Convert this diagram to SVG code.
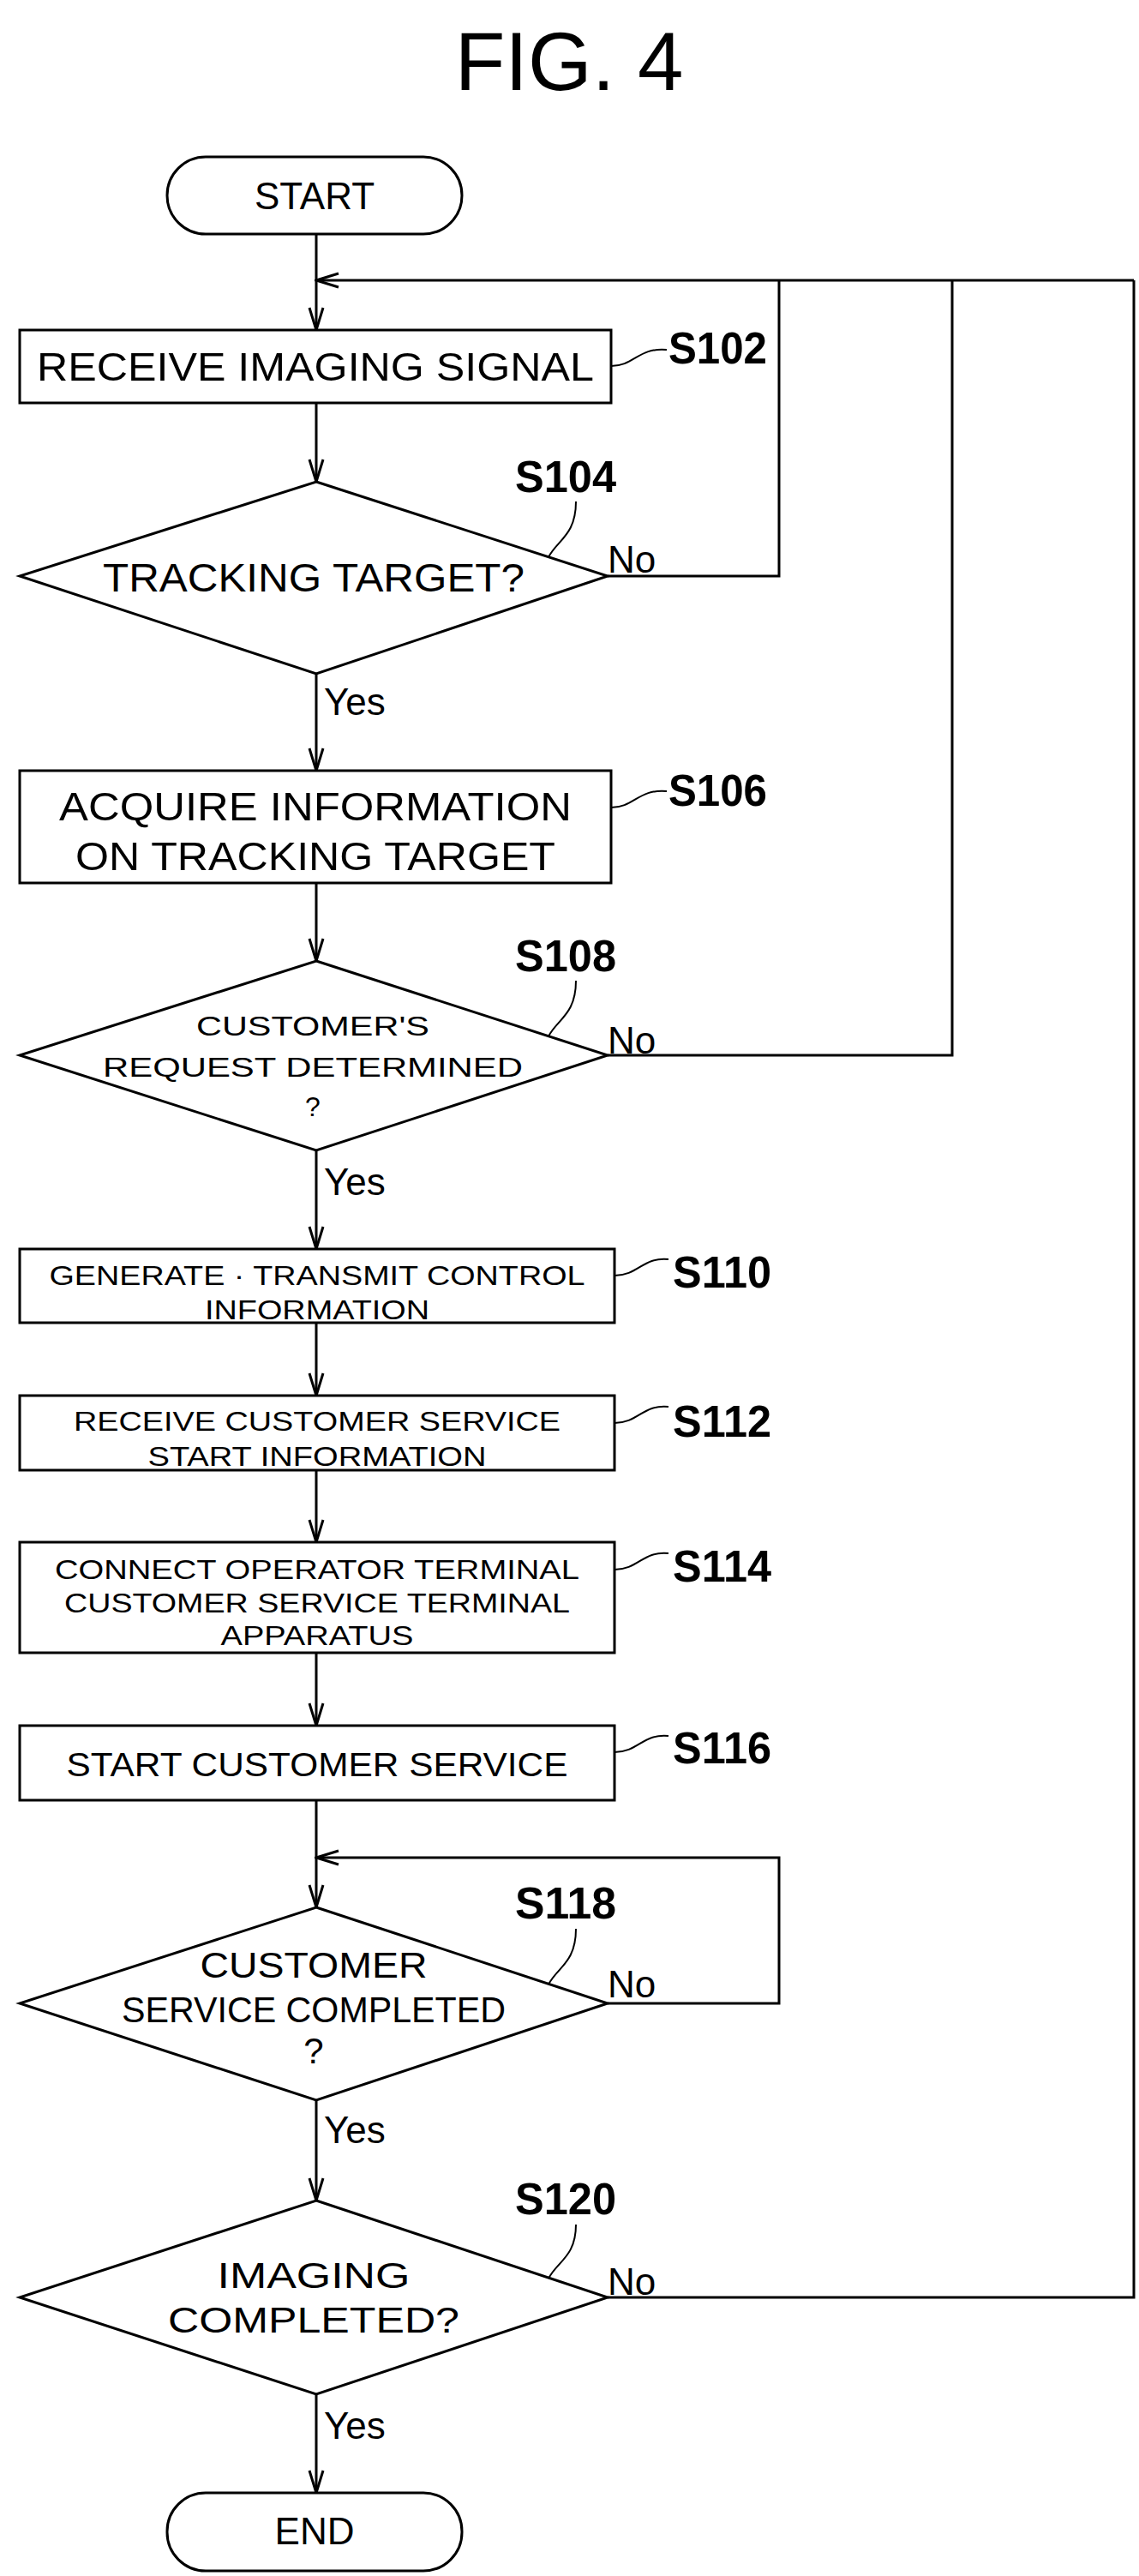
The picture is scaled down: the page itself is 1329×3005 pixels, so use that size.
<svg xmlns="http://www.w3.org/2000/svg" width="1329" height="3005" viewBox="0 0 1329 3005">
<style>
.s{fill:#fff;stroke:#000;stroke-width:3}
.c{fill:none;stroke:#000;stroke-width:3}
.l{fill:none;stroke:#000;stroke-width:2}
text{font-family:"Liberation Sans",Arial,sans-serif;fill:#000}
.t{text-anchor:middle}
.lb{font-size:52px;font-weight:bold}
.yn{font-size:44px}
</style>
<defs>
<marker id="a" markerWidth="30" markerHeight="20" refX="28" refY="10" orient="auto" markerUnits="userSpaceOnUse" viewBox="0 0 30 20">
<path d="M2,2 L28,10 L2,18" fill="none" stroke="#000" stroke-width="3"/>
</marker>
</defs>
<text x="664" y="105" class="t" font-size="96">FIG. 4</text>

<g id="connectors">
<path class="c" d="M369,273 V385" marker-end="url(#a)"/>
<path class="c" d="M1323,327 H369" marker-end="url(#a)"/>
<path class="c" d="M369,470 V562" marker-end="url(#a)"/>
<path class="c" d="M709,672 H909 V327"/>
<path class="c" d="M369,786 V899" marker-end="url(#a)"/>
<path class="c" d="M369,1030 V1121" marker-end="url(#a)"/>
<path class="c" d="M709,1231 H1111 V327"/>
<path class="c" d="M369,1342 V1457" marker-end="url(#a)"/>
<path class="c" d="M369,1543 V1628" marker-end="url(#a)"/>
<path class="c" d="M369,1715 V1799" marker-end="url(#a)"/>
<path class="c" d="M369,1928 V2013" marker-end="url(#a)"/>
<path class="c" d="M369,2100 V2225" marker-end="url(#a)"/>
<path class="c" d="M709,2337 H909 V2167 H369" marker-end="url(#a)"/>
<path class="c" d="M369,2450 V2567" marker-end="url(#a)"/>
<path class="c" d="M709,2680 H1323 V327"/>
<path class="c" d="M369,2793 V2908" marker-end="url(#a)"/>
<text x="709" y="668" class="yn">No</text>
<text x="709" y="1229" class="yn">No</text>
<text x="709" y="2330" class="yn">No</text>
<text x="709" y="2677" class="yn">No</text>
<text x="378" y="834" class="yn">Yes</text>
<text x="378" y="1394" class="yn">Yes</text>
<text x="378" y="2500" class="yn">Yes</text>
<text x="378" y="2845" class="yn">Yes</text>
</g>

<g id="start"><rect class="s" x="195" y="183" width="344" height="90" rx="45"/><text x="367" y="244" class="t" font-size="44">START</text></g>

<g id="s102"><rect class="s" x="23" y="385" width="690" height="85"/>
<text x="368" y="444" class="t" font-size="46" textLength="650" lengthAdjust="spacingAndGlyphs">RECEIVE IMAGING SIGNAL</text>
<path class="l" d="M713,427 C740,427 745,405 778,408"/>
<text x="780" y="424" class="lb" textLength="115" lengthAdjust="spacingAndGlyphs">S102</text></g>

<g id="s104"><polygon class="s" points="369,562 709,672 369,786 23,672"/>
<text x="366" y="690" class="t" font-size="46" textLength="492" lengthAdjust="spacingAndGlyphs">TRACKING TARGET?</text>
<path class="l" d="M640,650 C650,630 672,625 672,585"/>
<text x="601" y="574" class="lb" textLength="118" lengthAdjust="spacingAndGlyphs">S104</text></g>

<g id="s106"><rect class="s" x="23" y="899" width="690" height="131"/>
<text x="368" y="957" class="t" font-size="46" textLength="598" lengthAdjust="spacingAndGlyphs">ACQUIRE INFORMATION</text>
<text x="368" y="1015" class="t" font-size="46" textLength="560" lengthAdjust="spacingAndGlyphs">ON TRACKING TARGET</text>
<path class="l" d="M713,942 C740,942 745,920 778,923"/>
<text x="780" y="940" class="lb" textLength="115" lengthAdjust="spacingAndGlyphs">S106</text></g>

<g id="s108"><polygon class="s" points="369,1121 709,1231 369,1342 23,1231"/>
<text x="365" y="1208" class="t" font-size="32" textLength="272" lengthAdjust="spacingAndGlyphs">CUSTOMER'S</text>
<text x="365" y="1256" class="t" font-size="32" textLength="490" lengthAdjust="spacingAndGlyphs">REQUEST DETERMINED</text>
<text x="365" y="1302" class="t" font-size="32">?</text>
<path class="l" d="M640,1209 C650,1189 672,1184 672,1144"/>
<text x="601" y="1133" class="lb" textLength="118" lengthAdjust="spacingAndGlyphs">S108</text></g>

<g id="s110"><rect class="s" x="23" y="1457" width="694" height="86"/>
<text x="370" y="1499" class="t" font-size="32" textLength="625" lengthAdjust="spacingAndGlyphs">GENERATE · TRANSMIT CONTROL</text>
<text x="370" y="1539" class="t" font-size="32" textLength="262" lengthAdjust="spacingAndGlyphs">INFORMATION</text>
<path class="l" d="M717,1488 C745,1488 750,1466 780,1469"/>
<text x="785" y="1502" class="lb" textLength="115" lengthAdjust="spacingAndGlyphs">S110</text></g>

<g id="s112"><rect class="s" x="23" y="1628" width="694" height="87"/>
<text x="370" y="1669" class="t" font-size="32" textLength="568" lengthAdjust="spacingAndGlyphs">RECEIVE CUSTOMER SERVICE</text>
<text x="370" y="1710" class="t" font-size="32" textLength="395" lengthAdjust="spacingAndGlyphs">START INFORMATION</text>
<path class="l" d="M717,1660 C745,1660 750,1638 780,1641"/>
<text x="785" y="1676" class="lb" textLength="115" lengthAdjust="spacingAndGlyphs">S112</text></g>

<g id="s114"><rect class="s" x="23" y="1799" width="694" height="129"/>
<text x="370" y="1842" class="t" font-size="32" textLength="612" lengthAdjust="spacingAndGlyphs">CONNECT OPERATOR TERMINAL</text>
<text x="370" y="1881" class="t" font-size="32" textLength="590" lengthAdjust="spacingAndGlyphs">CUSTOMER SERVICE TERMINAL</text>
<text x="370" y="1919" class="t" font-size="32" textLength="225" lengthAdjust="spacingAndGlyphs">APPARATUS</text>
<path class="l" d="M717,1831 C745,1831 750,1809 780,1812"/>
<text x="785" y="1845" class="lb" textLength="115" lengthAdjust="spacingAndGlyphs">S114</text></g>

<g id="s116"><rect class="s" x="23" y="2013" width="694" height="87"/>
<text x="370" y="2072" class="t" font-size="38" textLength="585" lengthAdjust="spacingAndGlyphs">START CUSTOMER SERVICE</text>
<path class="l" d="M717,2044 C745,2044 750,2022 780,2025"/>
<text x="785" y="2057" class="lb" textLength="115" lengthAdjust="spacingAndGlyphs">S116</text></g>

<g id="s118"><polygon class="s" points="369,2225 709,2337 369,2450 23,2337"/>
<text x="366" y="2307" class="t" font-size="42" textLength="265" lengthAdjust="spacingAndGlyphs">CUSTOMER</text>
<text x="366" y="2359" class="t" font-size="42" textLength="448" lengthAdjust="spacingAndGlyphs">SERVICE COMPLETED</text>
<text x="366" y="2407" class="t" font-size="42">?</text>
<path class="l" d="M640,2315 C650,2295 672,2290 672,2250"/>
<text x="601" y="2238" class="lb" textLength="118" lengthAdjust="spacingAndGlyphs">S118</text></g>

<g id="s120"><polygon class="s" points="369,2567 709,2680 369,2793 23,2680"/>
<text x="366" y="2669" class="t" font-size="42" textLength="225" lengthAdjust="spacingAndGlyphs">IMAGING</text>
<text x="366" y="2721" class="t" font-size="42" textLength="340" lengthAdjust="spacingAndGlyphs">COMPLETED?</text>
<path class="l" d="M640,2658 C650,2638 672,2633 672,2595"/>
<text x="601" y="2583" class="lb" textLength="118" lengthAdjust="spacingAndGlyphs">S120</text></g>

<g id="end"><rect class="s" x="195" y="2908" width="344" height="91" rx="45"/><text x="367" y="2968" class="t" font-size="44">END</text></g>
</svg>
